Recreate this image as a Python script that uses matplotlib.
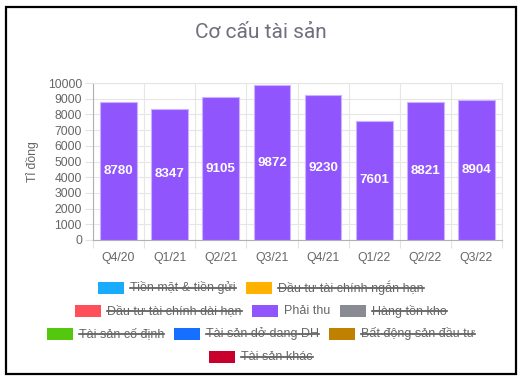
import matplotlib.pyplot as plt
from matplotlib.patches import Rectangle
from matplotlib.lines import Line2D

quarters = ['Q4/20', 'Q1/21', 'Q2/21', 'Q3/21', 'Q4/21', 'Q1/22', 'Q2/22', 'Q3/22']
phai_thu = [8780, 8347, 9105, 9872, 9230, 7601, 8821, 8904]

legend_labels = ['Tiền mặt & tiền gửi', 'Đầu tư tài chính ngắn hạn',
                 'Đầu tư tài chính dài hạn', 'Phải thu', 'Hàng tồn kho',
                 'Tài sản cố định', 'Tài sản dở dang DH', 'Bất động sản đầu tư',
                 'Tài sản khác']
legend_colors = ['#1aabff', '#ffb300', '#ff4f5a', '#9155fd', '#898b93',
                 '#53c80e', '#1570ff', '#c08000', '#c8002d']
legend_hidden = [True, True, True, False, True, True, True, True, True]
legend_rows = [[0, 1], [2, 3, 4], [5, 6, 7], [8]]

W, H = 521, 378
plt.rcParams['font.family'] = ['Liberation Sans', 'DejaVu Sans']
fig = plt.figure(figsize=(W / 100, H / 100), dpi=100)

def px(x, y):
    return x / W, 1 - y / H

# outer frame
fig.patches.append(Rectangle(px(6, 374), 510 / W, 367 / H, transform=fig.transFigure,
                             fill=False, edgecolor='black', linewidth=1.6))

ax = fig.add_axes([93 / W, 1 - 240 / H, (502 - 93) / W, (240 - 83) / H])
x = list(range(len(quarters)))
ax.bar(x, phai_thu, width=0.72, color='#9155fd', edgecolor='#c9b2ff', linewidth=0.8, zorder=3)
for xi, v in zip(x, phai_thu):
    ax.text(xi, v / 2, str(v), ha='center', va='center', color='white',
            fontsize=9.6, fontweight='bold', zorder=4)

ax.set_xlim(-0.5, len(quarters) - 0.5)
ax.set_ylim(0, 10000)
ax.set_yticks(range(0, 10001, 1000))
ax.set_xticks(x)
ax.set_xticklabels(quarters)
ax.set_xticks([i - 0.5 for i in range(len(quarters) + 1)], minor=True)
ax.tick_params(axis='x', which='major', length=0, pad=9, labelsize=8.8, labelcolor='#666666')
ax.tick_params(axis='x', which='minor', length=6, color='#e2e2e2', width=0.8)
ax.tick_params(axis='y', length=6, color='#e2e2e2', width=0.8, pad=2, labelsize=8.8,
               labelcolor='#666666')
ax.grid(True, axis='y', color='#e6e6e6', linewidth=0.8, zorder=0)
ax.grid(True, axis='x', which='minor', color='#e6e6e6', linewidth=0.8, zorder=0)
for side in ['top', 'right']:
    ax.spines[side].set_color('#e6e6e6')
    ax.spines[side].set_linewidth(0.8)
for side in ['left', 'bottom']:
    ax.spines[side].set_color('#b0b0b0')
    ax.spines[side].set_linewidth(0.8)
ax.set_ylabel('Tỉ đồng', fontsize=8.8, color='#666666', labelpad=6)

fig.text(261 / W, 1 - 33 / H, 'Cơ cấu tài sản', ha='center', va='center',
         fontsize=15, color='#6f6e7e', family=['Roboto', 'DejaVu Sans'])

# legend drawn by hand (hidden datasets struck through)
renderer = fig.canvas.get_renderer()
box_w, box_h, gap, pad = 26, 12, 6, 10
row_y = [288, 311, 334, 357]
for row, yc in zip(legend_rows, row_y):
    widths = []
    texts = []
    for i in row:
        t = fig.text(0, 0, legend_labels[i], fontsize=9, color='#666666', va='center')
        widths.append(t.get_window_extent(renderer).width)
        texts.append(t)
    total = sum(box_w + gap + w for w in widths) + pad * (len(row) - 1)
    xs = 261 - total / 2
    for i, t, w in zip(row, texts, widths):
        fig.patches.append(Rectangle(px(xs, yc + box_h / 2), box_w / W, box_h / H,
                                     transform=fig.transFigure, facecolor=legend_colors[i],
                                     edgecolor='none'))
        tx = xs + box_w + gap
        t.set_position(px(tx, yc))
        if legend_hidden[i]:
            fig.lines.append(Line2D([tx / W, (tx + w) / W], [1 - yc / H, 1 - yc / H],
                                    transform=fig.transFigure, color='#555555', linewidth=1.2))
        xs = tx + w + pad

fig.savefig('out.png', dpi=100)
